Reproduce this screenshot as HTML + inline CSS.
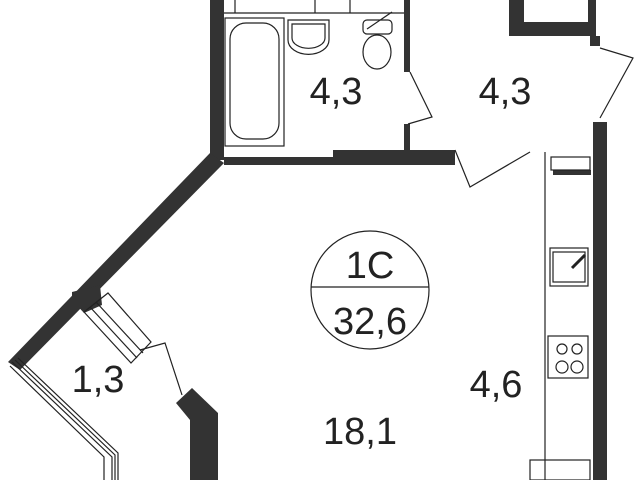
<!DOCTYPE html>
<html><head><meta charset="utf-8"><style>
html,body{margin:0;padding:0;background:#fff;}
svg{display:block;}
text{font-family:"Liberation Sans",sans-serif;fill:#222;}
</style></head><body>
<svg width="640" height="480" viewBox="0 0 640 480" xmlns="http://www.w3.org/2000/svg">
<g fill="#333" stroke="none">
<rect x="210" y="0" width="14" height="160"/>
<rect x="224" y="157" width="110" height="8"/>
<rect x="333" y="150" width="122" height="15"/>
<rect x="404" y="0" width="6" height="72"/>
<rect x="404" y="124" width="6" height="28"/>
<polygon points="210,153 224,163 20,370 8,362"/>
<rect x="509" y="0" width="15" height="36"/>
<rect x="509" y="22" width="86" height="14"/>
<rect x="588" y="0" width="8" height="36"/>
<rect x="590" y="36" width="10" height="10"/>
<rect x="593" y="122" width="14" height="358"/>
<polygon points="72,292 100,285 102,305 84,313 72,300"/>
<polygon points="176,403 192,388 218,413 218,480 190,480 190,420"/>
<rect x="553" y="170" width="38" height="5"/>
</g>
<g fill="none" stroke="#222" stroke-width="1.2">
<line x1="224" y1="13" x2="404" y2="13"/>
<line x1="235" y1="0" x2="235" y2="13"/><line x1="315" y1="0" x2="315" y2="13"/><line x1="350" y1="0" x2="350" y2="13"/>
<rect x="225" y="18" width="59" height="128"/>
<rect x="230" y="23" width="49" height="116" rx="16"/>
<path d="M288 20 h41 v20 a20 14 0 0 1 -41 0 z"/>
<path d="M292 24 h33 v14 a16 10 0 0 1 -33 0 z"/>
<rect x="363" y="20" width="29" height="14" rx="4"/>
<ellipse cx="377" cy="52" rx="14" ry="17"/>
<line x1="367" y1="29" x2="392" y2="12"/>
<polyline points="410,72 432,117 408,124"/>
<polyline points="455,150 470,187 530,152"/>
<polyline points="600,48 633,58 600,118"/>
<line x1="545" y1="152" x2="545" y2="480"/>
<rect x="551" y="157" width="39" height="13"/>
<rect x="550" y="248" width="38" height="38"/>
<rect x="553" y="252" width="32" height="30"/>
<line x1="572" y1="268" x2="585" y2="255" stroke-width="3"/>
<rect x="548" y="336" width="40" height="42"/>
<circle cx="562" cy="349" r="5"/><circle cx="577" cy="349" r="5"/>
<circle cx="562" cy="367" r="6"/><circle cx="577" cy="367" r="6"/>
<rect x="530" y="460" width="60" height="20"/>
<polyline points="12,362 112,457 112,480"/>
<polyline points="15,360 115,455 115,480"/>
<polyline points="18,358 118,453 118,480"/>
<polyline points="10,366 104,457 104,480"/>
<polygon points="84,312 108,293 151,342 131,363"/>
<line x1="90" y1="307" x2="137" y2="358"/>
<line x1="96" y1="302" x2="143" y2="353"/>
<polyline points="140,350 165,343 182,395"/>
<circle cx="370" cy="290" r="59"/>
<line x1="311" y1="287" x2="429" y2="287"/>
</g>
<g font-size="38">
<text x="336" y="104" text-anchor="middle">4,3</text>
<text x="505" y="104" text-anchor="middle">4,3</text>
<text x="370" y="278" text-anchor="middle">1С</text>
<text x="370" y="334" text-anchor="middle">32,6</text>
<text x="98" y="392" text-anchor="middle">1,3</text>
<text x="360" y="444" text-anchor="middle">18,1</text>
<text x="496" y="397" text-anchor="middle">4,6</text>
</g>
</svg>
</body></html>
